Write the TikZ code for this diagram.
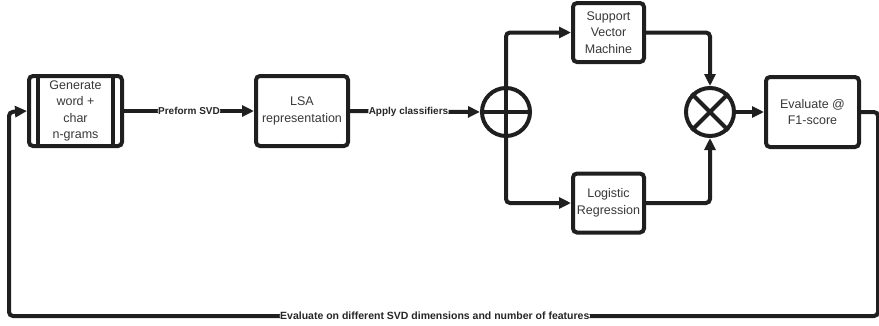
\documentclass[tikz,border=0pt]{standalone}
\usepackage{fontspec}
\setmainfont{Liberation Sans}
\usetikzlibrary{arrows.meta,calc}
\begin{document}
\begin{tikzpicture}[x=1pt,y=-1pt,
  box/.style={draw=black!88,line width=4pt,rounded corners=4pt,fill=white,
    align=center,font=\fontsize{12.5}{16.5}\selectfont,text=black!78,inner sep=0pt},
  conn/.style={draw=black!88,line width=4pt,rounded corners=4pt},
  arr/.style={conn,-{Triangle[length=12pt,width=11pt]}},
  lab/.style={fill=white,font=\bfseries\fontsize{10}{12}\selectfont,inner sep=0.5pt,text=black!85},
  circ/.style={draw=black!88,line width=4pt,circle,minimum size=48pt,inner sep=0pt}]
\useasboundingbox (0,0) rectangle (879,325);
\node[box,minimum width=93pt,minimum height=70pt] (gen) at (75.5,111) {Generate\\word +\\char\\n-grams};
\draw[line width=4pt,black!88] ([xshift=11pt]gen.north west) -- ([xshift=11pt]gen.south west);
\draw[line width=4pt,black!88] ([xshift=-11pt]gen.north east) -- ([xshift=-11pt]gen.south east);
\node[box,minimum width=92pt,minimum height=70pt] (lsa) at (302,111) {LSA\\representation};
\node[circ] (plus) at (506,112) {};
\draw[line width=4pt,black!88] (plus.north) -- (plus.south) (plus.west) -- (plus.east);
\node[box,minimum width=71pt,minimum height=59pt] (svm) at (608.5,32.5) {Support\\Vector\\Machine};
\node[box,minimum width=71pt,minimum height=59pt] (lr) at (608.5,203) {Logistic\\Regression};
\node[circ] (times) at (710,112) {};
\draw[line width=4pt,black!88] (times.north west) -- (times.south east) (times.north east) -- (times.south west);
\node[box,minimum width=93pt,minimum height=70pt] (eval) at (812.5,112) {Evaluate @\\F1-score};
\coordinate (r1) at (878,112);
\coordinate (r2) at (878,316);
\coordinate (l1) at (9,316);
\coordinate (l2) at (9,112);
\draw[arr] (gen.east) -- node[lab,pos=0.5] {Preform SVD} (lsa.west);
\draw[arr] (lsa.east) -- node[lab,pos=0.45] {Apply classifiers} (plus.west);
\draw[arr] (plus.north) |- (svm.west);
\draw[arr] (plus.south) |- (lr.west);
\draw[arr] (svm.east) -| (times.north);
\draw[arr] (lr.east) -| (times.south);
\draw[arr] (times.east) -- (eval.west);
\draw[arr] (eval.east) -- (r1) -- (r2) -- node[lab,pos=0.51,font=\bfseries\fontsize{10.5}{12}\selectfont] {Evaluate on different SVD dimensions and number of features} (l1) -- (l2) -- (gen.west);
\end{tikzpicture}
\end{document}
